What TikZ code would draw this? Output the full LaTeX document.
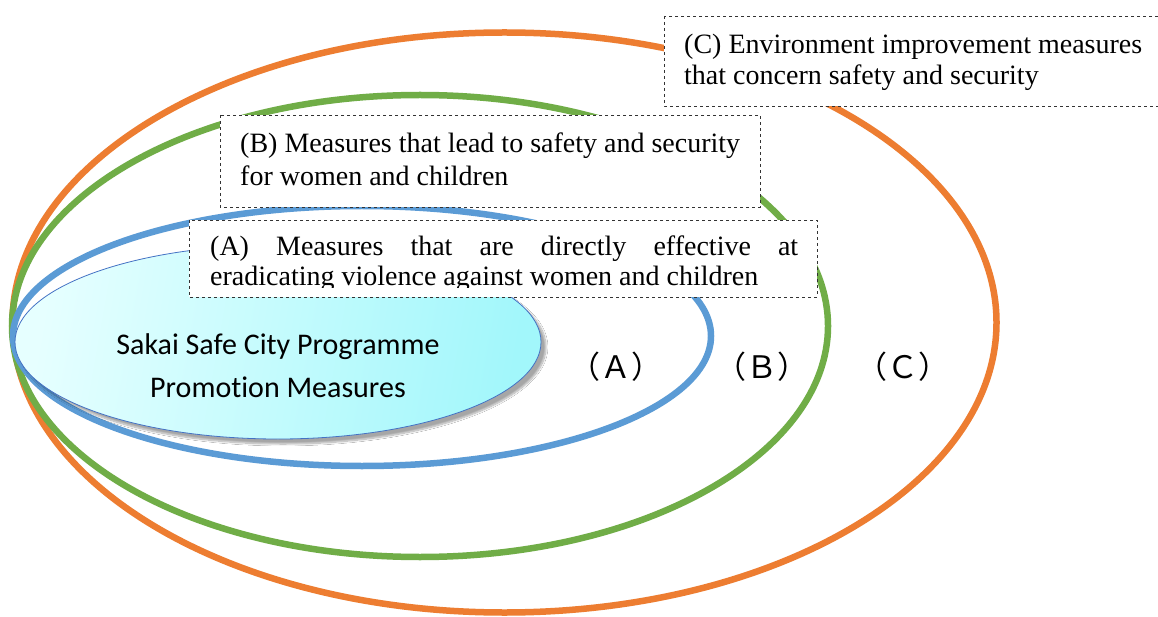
\documentclass[tikz,border=0pt]{standalone}
\usepackage{fontspec}
\setmainfont{Liberation Serif}
\newfontfamily\centerfont[Ligatures=NoCommon]{Carlito}
\newfontfamily\cjk{Noto Sans CJK JP}
\usetikzlibrary{shadows.blur,shapes.geometric}
\definecolor{orng}{HTML}{ED7D31}
\definecolor{grn}{HTML}{70AD47}
\definecolor{blu}{HTML}{5B9BD5}
\definecolor{cyl}{HTML}{E6FFFF}
\definecolor{cyr}{HTML}{A2F7FB}
\definecolor{edgeblue}{HTML}{4472C4}
\tikzset{
  ring/.style={line width=6.5pt},
  notebox/.style={draw=black!80, dashed, fill=white, line width=0.8pt},
  serifline/.style={anchor=base west, inner sep=0pt, font=\fontsize{28}{33}\selectfont},
  letterlabel/.style={inner sep=0pt, font=\cjk\fontsize{31}{33}\selectfont},
}
\begin{document}
\begin{tikzpicture}[x=1pt,y=-1pt]
\clip (0,0) rectangle (1158,617);
\fill[white] (0,0) rectangle (1158,617);
% rings
\draw[ring, orng] (504.5,322.5) ellipse [x radius=492, y radius=290];
\draw[ring, grn] (420,326) ellipse [x radius=408, y radius=231];
\draw[ring, blu] (362,336) ellipse [x radius=349, y radius=130];
% central ellipse
\node[ellipse, draw=edgeblue, line width=0.8pt, minimum width=526pt, minimum height=194pt,
  inner sep=0pt, left color=cyl, right color=cyr, shading angle=80,
  blur shadow={shadow xshift=5pt, shadow yshift=-5pt, shadow blur steps=10, shadow opacity=35}] (core) at (278,342) {};
\node[inner sep=0pt, align=center, font=\centerfont\fontsize{30}{43}\selectfont] (coretext) at (278,366)
  {Sakai Safe City Programme\\Promotion Measures};
% ring labels
\node[letterlabel] (la) at (616,367) {（Ａ）};
\node[letterlabel] (lb) at (762,367) {（Ｂ）};
\node[letterlabel] (lc) at (903,367) {（Ｃ）};
% box C
\draw[notebox] (664,16) rectangle (1175,106);
\node[serifline] (c1) at (684,54) {(C) Environment improvement measures};
\node[serifline] (c2) at (684,85) {that concern safety and security};
% box B
\draw[notebox] (220,115) rectangle (760,207);
\node[serifline] (b1) at (240,153) {(B) Measures that lead to safety and security};
\node[serifline] (b2) at (240,186) {for women and children};
% box A
\draw[notebox] (189,220) rectangle (817,297);
\begin{scope}
\clip (190,221) rectangle (816,288);
\node[serifline] (a1) at (210,256) {\makebox[588pt][s]{(A) Measures that are directly effective at}};
\node[serifline] (a2) at (210,286) {eradicating violence against women and children};
\end{scope}
\end{tikzpicture}
\end{document}
